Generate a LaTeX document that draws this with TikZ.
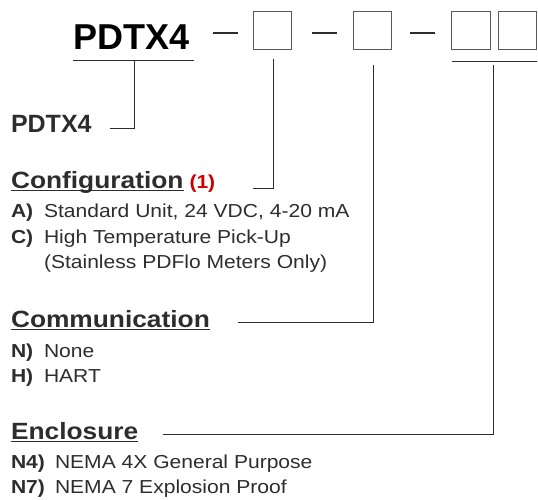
\documentclass[tikz,border=0pt]{standalone}
\usepackage{fontspec}
\setmainfont{Liberation Sans}
\newfontfamily\widefont{Liberation Sans}[FakeStretch=1.12]
\usetikzlibrary{positioning}
\definecolor{codered}{RGB}{204,0,0}
\definecolor{inkgray}{RGB}{45,45,45}
\newcommand\titlefont{\bfseries\fontsize{36}{40}\selectfont}
\newcommand\subfont{\bfseries\fontsize{25}{28}\selectfont}
\newcommand\hdfont{\widefont\bfseries\fontsize{23.5}{26}\selectfont}
\newcommand\optfont{\widefont\fontsize{18.8}{22}\selectfont}
\newcommand\keyfont{\widefont\bfseries\fontsize{18.8}{22}\selectfont}
\tikzset{
	txt/.style={anchor=base west, inner sep=0pt, outer sep=0pt, text=inkgray},
	codebox/.style={draw=black!65, line width=0.9pt, minimum size=38.5pt, inner sep=0pt},
	dashbar/.style={line width=1.8pt, color=inkgray},
	leader/.style={line width=1pt, color=inkgray},
	headline/.style={line width=1.3pt, color=inkgray}
}

\begin{document}
\begin{tikzpicture}[x=1pt, y=-1pt]
		%%%%% START %%%%%
		\useasboundingbox (0,0) rectangle (538,500);
		
		% model code
		\node[txt, text=black, font=\titlefont] (title) at (73, 50) {PDTX4};
		\draw[dashbar] (213, 33) -- (238, 33);
		\node[codebox] (box1) at (272.5, 30.5) {};
		\draw[dashbar] (312, 33) -- (337, 33);
		\node[codebox] (box2) at (372.5, 30.5) {};
		\draw[dashbar] (410, 33) -- (435, 33);
		\node[codebox] (box3) at (471, 30.5) {};
		\node[codebox] (box4) at (517.5, 30.5) {};
		
		\draw[leader] (73, 61) -- (194, 61);
		\draw[leader] (452, 62) -- (537, 62);
		
		% model
		\node[txt, font=\subfont] (model) at (11, 132) {PDTX4};
		\coordinate (m0) at (134, 61);
		\coordinate (m1) at (110, 129);
		\draw[leader] (m0) |- (m1);
		
		% configuration
		\node[txt, font=\hdfont] (config) at (11, 188) {Configuration};
		\draw[headline] ([yshift=-2.5pt]config.base west) -- ([yshift=-2.5pt]config.base east);
		\node[txt, text=codered, font=\keyfont, right=6pt of config.base east, anchor=base west] (note) {(1)};
		\coordinate (c0) at (273.5, 59);
		\coordinate (c1) at (253, 188);
		\draw[leader] (c0) |- (c1);
		
		\node[txt, font=\keyfont] (keyA) at (11, 217) {A)};
		\node[txt, font=\optfont] (optA) at (44, 217) {Standard Unit, 24 VDC, 4-20 mA};
		\node[txt, font=\keyfont] (keyC) at (11, 243) {C)};
		\node[txt, font=\optfont] (optC) at (44, 243) {High Temperature Pick-Up};
		\node[txt, font=\optfont] (optCb) at (44, 268) {(Stainless PDFlo Meters Only)};
		
		% communication
		\node[txt, font=\hdfont] (comm) at (11, 327) {Communication};
		\draw[headline] ([yshift=-2.5pt]comm.base west) -- ([yshift=-2.5pt]comm.base east);
		\coordinate (k0) at (373, 65);
		\coordinate (k1) at (238, 322);
		\draw[leader] (k0) |- (k1);
		
		\node[txt, font=\keyfont] (keyN) at (11, 357) {N)};
		\node[txt, font=\optfont] (optN) at (44, 357) {None};
		\node[txt, font=\keyfont] (keyH) at (11, 382) {H)};
		\node[txt, font=\optfont] (optH) at (44, 382) {HART};
		
		% enclosure
		\node[txt, font=\hdfont] (encl) at (11, 439) {Enclosure};
		\draw[headline] ([yshift=-2.5pt]encl.base west) -- ([yshift=-2.5pt]encl.base east);
		\coordinate (e0) at (493.5, 65);
		\coordinate (e1) at (163, 434);
		\draw[leader] (e0) |- (e1);
		
		\node[txt, font=\keyfont] (keyN4) at (11, 468) {N4)};
		\node[txt, font=\optfont] (optN4) at (55, 468) {NEMA 4X General Purpose};
		\node[txt, font=\keyfont] (keyN7) at (11, 493) {N7)};
		\node[txt, font=\optfont] (optN7) at (55, 493) {NEMA 7 Explosion Proof};
		
		%%%%% END %%%%%
\end{tikzpicture}
\end{document}
